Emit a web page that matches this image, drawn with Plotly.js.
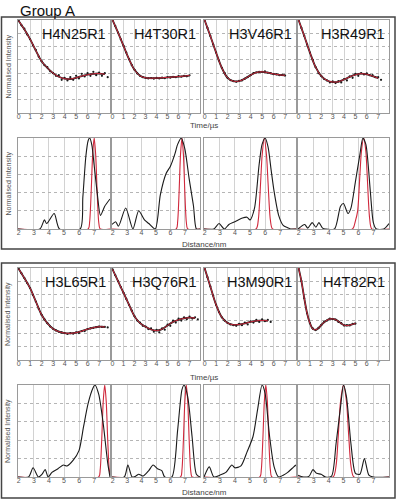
<!DOCTYPE html>
<html><head><meta charset="utf-8">
<script src="https://cdn.plot.ly/plotly-3.0.1.min.js"></script>
<style>html,body{margin:0;padding:0;background:#fff}#c{width:397px;height:500px}</style>
</head><body><div id="c"></div>
<script>
// ---------- labels ----------
const groupTitle = "Group A";
const labelsTop = ["H4N25R1","H4T30R1","H3V46R1","H3R49R1"];
const labelsBottom = ["H3L65R1","H3Q76R1","H3M90R1","H4T82R1"];
const timeTicks = [0,1,2,3,4,5,6,7];
const distTicks = [2,3,4,5,6,7];
const timeTitle = "Time/\u00b5s";
const distTitle = "Distance/nm";
const yTitle = "Normalised Intensity";

// ---------- time traces (normalised intensity) ----------
const tFit05 = [0,0.5,1,1.5,2,2.5,3,3.5,4,4.5,5,5.5,6,6.5,7,7.5];
const tData025 = [0,0.25,0.5,0.75,1,1.25,1.5,1.75,2,2.25,2.5,2.75,3,3.25,3.5,3.75,4,4.25,4.5,4.75,5,5.25,5.5,5.75,6,6.25,6.5,6.75,7,7.25,7.5,7.75];

const fitH4N25R1 = [0.995,0.93,0.856,0.77,0.69,0.64,0.60,0.573,0.558,0.556,0.565,0.578,0.588,0.595,0.597,0.592];
const datH4N25R1 = [0.995,0.96,0.935,0.89,0.855,0.81,0.775,0.725,0.69,0.66,0.645,0.615,0.60,0.58,0.585,0.55,0.565,0.545,0.57,0.55,0.58,0.56,0.595,0.575,0.60,0.58,0.61,0.585,0.605,0.58,0.60,0.57];

const fitH4T30R1 = [1.0,0.905,0.805,0.705,0.625,0.58,0.565,0.562,0.563,0.565,0.568,0.571,0.574,0.578,0.582];
const datH4T30R1 = [1.0,0.955,0.905,0.855,0.805,0.755,0.705,0.66,0.625,0.598,0.58,0.57,0.565,0.56,0.562,0.558,0.564,0.56,0.566,0.562,0.57,0.566,0.573,0.57,0.577,0.573,0.58,0.576,0.584];

const fitH3V46R1 = [1.0,0.88,0.755,0.64,0.565,0.54,0.54,0.558,0.585,0.605,0.61,0.604,0.594,0.587,0.584];
const datH3V46R1 = [1.0,0.94,0.88,0.815,0.755,0.695,0.64,0.60,0.565,0.548,0.54,0.535,0.542,0.545,0.558,0.57,0.585,0.60,0.605,0.61,0.61,0.614,0.603,0.60,0.592,0.59,0.585,0.588,0.582];

const fitH3R49R1 = [1.0,0.88,0.755,0.645,0.578,0.545,0.533,0.535,0.552,0.572,0.588,0.596,0.591,0.578,0.562];
const datH3R49R1 = [1.0,0.94,0.88,0.815,0.755,0.70,0.645,0.60,0.578,0.555,0.545,0.53,0.538,0.525,0.54,0.53,0.555,0.545,0.575,0.565,0.595,0.58,0.60,0.59,0.598,0.585,0.585,0.57,0.57,0.55];

const fitH3L65R1 = [0.995,0.924,0.847,0.745,0.644,0.58,0.537,0.516,0.505,0.503,0.508,0.52,0.535,0.546,0.553,0.551];
const datH3L65R1 = [0.995,0.96,0.924,0.885,0.847,0.795,0.745,0.69,0.644,0.61,0.58,0.555,0.537,0.525,0.515,0.51,0.505,0.498,0.505,0.50,0.51,0.505,0.52,0.52,0.535,0.54,0.545,0.55,0.555,0.552,0.552,0.548];

const fitH3Q76R1 = [0.99,0.90,0.81,0.72,0.632,0.58,0.553,0.532,0.523,0.535,0.563,0.59,0.606,0.617,0.622,0.619];
const datH3Q76R1 = [0.99,0.945,0.90,0.855,0.81,0.765,0.72,0.675,0.632,0.60,0.585,0.56,0.555,0.535,0.54,0.515,0.53,0.51,0.54,0.53,0.57,0.56,0.60,0.585,0.615,0.60,0.625,0.61,0.63,0.615,0.625,0.61];

const fitH3M90R1 = [1.0,0.86,0.72,0.625,0.582,0.568,0.57,0.578,0.59,0.598,0.601,0.598];
const datH3M90R1 = [1.0,0.93,0.86,0.79,0.72,0.665,0.625,0.60,0.582,0.57,0.565,0.56,0.575,0.565,0.585,0.57,0.595,0.585,0.605,0.59,0.61,0.595,0.605,0.59];

const fitH4T82R1 = [1.0,0.90,0.77,0.656,0.58,0.537,0.53,0.542,0.567,0.587,0.603,0.612,0.613,0.607,0.594,0.578,0.565,0.562,0.565,0.572,0.578];
const datH4T82R1 = [1.0,0.90,0.77,0.655,0.58,0.54,0.528,0.545,0.565,0.59,0.60,0.615,0.61,0.608,0.59,0.58,0.562,0.565,0.563,0.575,0.577];

// ---------- distance distributions ----------
const dBlkX_H4N25R1 = [1.95,3.4,3.7,3.85,4.35,4.7,6.07,6.25,6.45,6.6,6.7,6.85,7.0,7.2,7.42,7.7,8.05];
const dBlkY_H4N25R1 = [0,0,0.1,0.06,0.17,0,0,0.35,0.8,0.97,1.0,0.92,0.7,0.4,0.15,0.25,0.33];
const dRedX_H4N25R1 = [1.95,6.6,6.7,6.8,6.9,7.0,7.1,7.2,7.3,7.4,8.05];
const dRedY_H4N25R1 = [0,0,0.08,0.4,0.82,1,0.82,0.4,0.08,0,0];

const dBlkX_H4T30R1 = [1.95,2.2,2.4,2.9,3.4,3.8,4.2,4.5,4.95,5.3,5.7,6.0,6.3,6.5,6.75,7.0,7.3,7.6,7.8,8.05];
const dBlkY_H4T30R1 = [0.05,0.08,0.03,0.23,0,0.2,0.1,0.06,0,0.375,0.61,0.69,0.82,0.93,1.0,0.88,0.55,0.25,0,0];
const dRedX_H4T30R1 = [1.95,6.4,6.5,6.6,6.7,6.8,6.9,7.0,7.1,7.2,8.05];
const dRedY_H4T30R1 = [0,0,0.08,0.4,0.82,1,0.82,0.4,0.08,0,0];

const dBlkX_H3V46R1 = [1.95,2.6,2.95,3.3,3.6,4.0,4.5,4.8,5.0,5.3,5.6,5.8,6.0,6.2,6.4,6.6,6.9,7.2,7.5,7.7,8.05];
const dBlkY_H3V46R1 = [0,0,0.06,0,0.05,0.08,0.12,0.13,0.1,0.23,0.7,0.93,1.0,0.9,0.65,0.41,0.15,0.04,0.015,0,0];
const dRedX_H3V46R1 = [1.95,5.4,5.55,5.7,5.8,5.95,6.1,6.2,6.35,6.5,8.05];
const dRedY_H3V46R1 = [0,0,0.1,0.5,0.8,1,0.8,0.5,0.1,0,0];

const dBlkX_H3R49R1 = [1.95,2.4,2.6,2.9,3.15,3.35,3.6,3.8,4.4,4.8,5.0,5.3,5.5,5.8,6.1,6.3,6.5,6.8,7.0,7.2,7.7,8.05];
const dBlkY_H3R49R1 = [0,0.05,0.01,0.07,0.02,0.07,0.01,0,0,0.25,0.28,0.17,0.23,0.52,0.82,1.0,0.93,0.41,0.07,0,0,0.06];
const dRedX_H3R49R1 = [1.95,5.6,5.8,5.95,6.1,6.2,6.35,6.5,6.6,6.75,6.9,8.05];
const dRedY_H3R49R1 = [0,0,0.09,0.2,0.6,0.85,1,0.85,0.55,0.12,0,0];

const dBlkX_H3L65R1 = [1.95,2.65,2.95,3.3,3.55,3.75,3.95,4.2,4.6,4.95,5.2,5.6,6.0,6.3,6.6,6.9,7.05,7.3,7.6,7.9,8.05];
const dBlkY_H3L65R1 = [0,0,0.1,0,0.03,0.08,0,0.05,0.09,0.13,0.12,0.18,0.29,0.55,0.8,0.96,1.0,0.9,0.58,0.15,0];
const dRedX_H3L65R1 = [1.95,7.3,7.4,7.5,7.6,7.7,7.8,7.9,8.0,8.1];
const dRedY_H3L65R1 = [0,0,0.08,0.4,0.82,1,0.82,0.4,0.08,0];

const dBlkX_H3Q76R1 = [1.95,2.8,3.05,3.35,3.6,3.8,4.1,4.5,4.8,5.1,5.4,5.6,6.1,6.5,6.8,6.95,7.2,7.5,7.8,8.05];
const dBlkY_H3Q76R1 = [0,0,0.13,0,0.01,0.03,0.01,0.07,0.13,0.09,0.07,0,0,0.51,0.95,1.0,0.87,0.44,0.03,0];
const dRedX_H3Q76R1 = [1.95,6.7,6.8,6.9,7.0,7.1,7.2,7.3,7.4,7.5,8.05];
const dRedY_H3Q76R1 = [0,0,0.08,0.4,0.82,1,0.82,0.4,0.08,0,0];

const dBlkX_H3M90R1 = [1.95,2.3,2.6,3.0,3.4,3.8,4.0,4.4,4.8,5.2,5.5,5.8,6.0,6.3,6.6,6.9,7.2,7.5,7.9,8.05];
const dBlkY_H3M90R1 = [0,0.11,0,0.02,0.05,0.13,0.1,0.12,0.27,0.44,0.73,1.0,0.91,0.44,0.11,0,0.02,0.05,0.11,0.13];
const dRedX_H3M90R1 = [1.95,5.65,5.75,5.85,5.95,6.05,6.15,6.25,6.35,6.45,8.05];
const dRedY_H3M90R1 = [0,0,0.08,0.4,0.82,1,0.82,0.4,0.08,0,0];

const dBlkX_H4T82R1 = [1.95,2.3,2.7,2.95,3.2,3.5,3.8,4.2,4.5,4.8,5.0,5.2,5.5,5.8,6.1,6.4,6.7,7.0,8.05];
const dBlkY_H4T82R1 = [0.02,0,0.01,0.08,0.04,0.03,0,0.01,0.36,0.76,1.0,0.87,0.36,0.04,0.03,0.2,0.02,0,0];
const dRedX_H4T82R1 = [1.95,4.3,4.5,4.65,4.8,5.0,5.2,5.35,5.5,5.7,8.05];
const dRedY_H4T82R1 = [0,0,0.12,0.45,0.82,1,0.82,0.45,0.12,0,0];

// ---------- assembling ----------
const W = 397, H = 500;
const cols = [[18,110],[112,200],[204,296],[298,389]];
const rows = [[20,113],[138,229],[268,360],[385,477]];
const BLACK = "#1a1a1a", RED = "#d0283c";

const timeSets = [
  [fitH4N25R1, datH4N25R1], [fitH4T30R1, datH4T30R1], [fitH3V46R1, datH3V46R1], [fitH3R49R1, datH3R49R1],
  [fitH3L65R1, datH3L65R1], [fitH3Q76R1, datH3Q76R1], [fitH3M90R1, datH3M90R1], [fitH4T82R1, datH4T82R1]
];
const distSets = [
  [dBlkX_H4N25R1,dBlkY_H4N25R1,dRedX_H4N25R1,dRedY_H4N25R1],
  [dBlkX_H4T30R1,dBlkY_H4T30R1,dRedX_H4T30R1,dRedY_H4T30R1],
  [dBlkX_H3V46R1,dBlkY_H3V46R1,dRedX_H3V46R1,dRedY_H3V46R1],
  [dBlkX_H3R49R1,dBlkY_H3R49R1,dRedX_H3R49R1,dRedY_H3R49R1],
  [dBlkX_H3L65R1,dBlkY_H3L65R1,dRedX_H3L65R1,dRedY_H3L65R1],
  [dBlkX_H3Q76R1,dBlkY_H3Q76R1,dRedX_H3Q76R1,dRedY_H3Q76R1],
  [dBlkX_H3M90R1,dBlkY_H3M90R1,dRedX_H3M90R1,dRedY_H3M90R1],
  [dBlkX_H4T82R1,dBlkY_H4T82R1,dRedX_H4T82R1,dRedY_H4T82R1]
];

const data = [];
const layout = {
  width: W, height: H, margin: {l:0,r:0,t:0,b:0},
  paper_bgcolor: "#fff", plot_bgcolor: "#fff", showlegend: false,
  font: {family: "Liberation Sans, Arial, sans-serif"},
  annotations: [], shapes: []
};

function px2x(p){ return p / W; }
function px2y(p){ return 1 - p / H; }

let n = 0;
for (let r = 0; r < 4; r++) {
  const isTime = (r % 2 === 0);
  for (let c = 0; c < 4; c++) {
    n++;
    const sfx = n === 1 ? "" : String(n);
    const xa = "x" + sfx, ya = "y" + sfx;
    const setIdx = (r < 2 ? 0 : 4) + c;
    layout["xaxis" + sfx] = {
      domain: [px2x(cols[c][0]), px2x(cols[c][1])],
      anchor: ya,
      range: isTime ? [-0.05, 7.95] : [1.95, 8.05],
      tickvals: isTime ? timeTicks : distTicks,
      ticktext: (isTime ? timeTicks : distTicks).map(String),
      showgrid: true, gridcolor: "#d2d2d2", gridwidth: 1,
      showline: true, mirror: true, linecolor: "#9a9a9a", linewidth: 1,
      zeroline: false, ticks: "", ticklabelstandoff: -3,
      tickfont: {size: 7, color: "#555"}
    };
    layout["yaxis" + sfx] = {
      domain: [px2y(rows[r][1]), px2y(rows[r][0])],
      anchor: xa,
      range: isTime ? [0.3, 1.0] : [0, 1.0],
      dtick: isTime ? 0.1 : 0.2, tick0: 0,
      showticklabels: false,
      showgrid: true, gridcolor: "#b5b5b5", gridwidth: 1, griddash: "dot",
      showline: true, mirror: true, linecolor: "#9a9a9a", linewidth: 1,
      zeroline: false, ticks: ""
    };
    if (isTime) {
      const [fit, dat] = timeSets[setIdx];
      const tf = (setIdx === 7) ? tData025.slice(0, fit.length) : tFit05.slice(0, fit.length);
      data.push({x: tf, y: fit, xaxis: xa, yaxis: ya, type: "scatter", mode: "lines",
        line: {color: BLACK, width: 1.8, shape: "spline"}, hoverinfo: "skip"});
      data.push({x: tData025.slice(0, dat.length), y: dat, xaxis: xa, yaxis: ya, type: "scatter",
        mode: "markers", marker: {color: BLACK, size: 2.2}, hoverinfo: "skip"});
      data.push({x: tf, y: fit, xaxis: xa, yaxis: ya, type: "scatter", mode: "lines",
        line: {color: RED, width: 1, shape: "spline"}, hoverinfo: "skip"});
      const lbl = (r === 0 ? labelsTop : labelsBottom)[c];
      layout.annotations.push({text: lbl, xref: "paper", yref: "paper",
        x: px2x(cols[c][1] - 2), y: px2y(rows[r][0] + 4), xanchor: "right", yanchor: "top",
        showarrow: false, font: {size: 14.5, color: "#111"}});
    } else {
      const [bx, by, rx, ry] = distSets[setIdx];
      data.push({x: rx, y: ry, xaxis: xa, yaxis: ya, type: "scatter", mode: "lines",
        line: {color: RED, width: 1.1, shape: "spline", smoothing: 0.7}, hoverinfo: "skip"});
      data.push({x: bx, y: by, xaxis: xa, yaxis: ya, type: "scatter", mode: "lines",
        line: {color: BLACK, width: 1.1, shape: "spline", smoothing: 0.7}, hoverinfo: "skip"});
    }
  }
  layout.annotations.push({text: yTitle, xref: "paper", yref: "paper", textangle: -90,
    x: px2x(8), y: px2y((rows[r][0] + rows[r][1]) / 2), xanchor: "center", yanchor: "middle",
    showarrow: false, font: {size: 7, color: "#555"}});
  const axTitleY = [125, 244, 377, 492][r];
  layout.annotations.push({text: isTime ? timeTitle : distTitle, xref: "paper", yref: "paper",
    x: px2x(204), y: px2y(axTitleY), xanchor: "center", yanchor: "middle",
    showarrow: false, font: {size: 8, color: "#444"}});
}

layout.annotations.push({text: groupTitle, xref: "paper", yref: "paper",
  x: px2x(18), y: px2y(10), xanchor: "left", yanchor: "middle", showarrow: false,
  font: {size: 15, color: "#111"}});

layout.shapes.push({type: "rect", xref: "paper", yref: "paper",
  x0: px2x(1.5), x1: px2x(395), y0: px2y(249), y1: px2y(17), line: {color: "#444", width: 1.5}});
layout.shapes.push({type: "rect", xref: "paper", yref: "paper",
  x0: px2x(1.5), x1: px2x(395), y0: px2y(498), y1: px2y(263), line: {color: "#444", width: 1.5}});

Plotly.newPlot("c", data, layout, {staticPlot: true, displayModeBar: false});
</script>
</body></html>
